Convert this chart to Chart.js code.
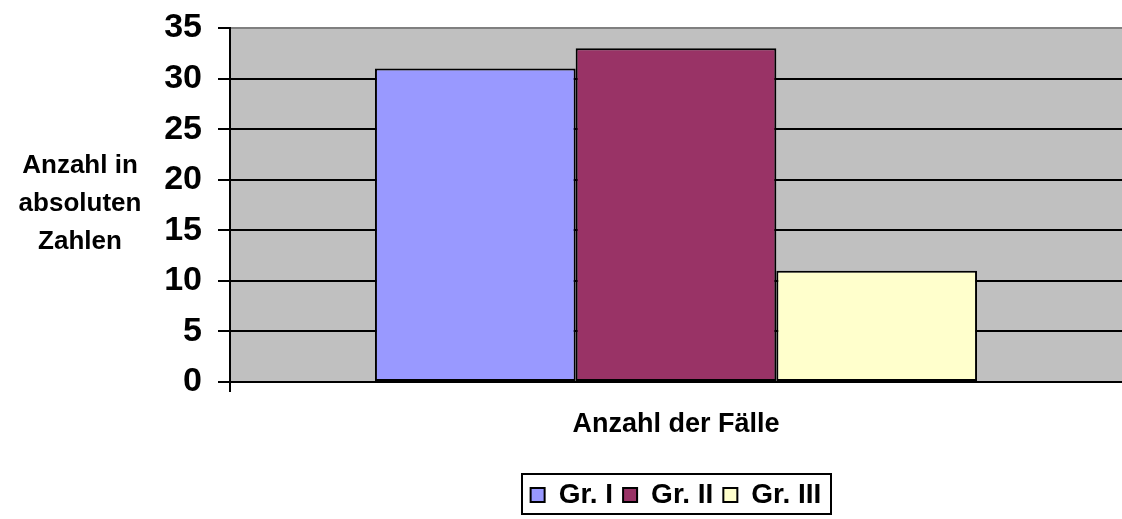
<!DOCTYPE html>
<html>
<head>
<meta charset="utf-8">
<script src="https://cdn.jsdelivr.net/npm/chart.js@4"></script>
<style>
  html, body { margin: 0; padding: 0; background: #fff; }
  #wrap { width: 1122px; height: 519px; }
</style>
</head>
<body>
<div id="wrap"><canvas id="bar-chart"></canvas></div>
<script>
var categories = [""];
var groupNames = ["Gr. I", "Gr. II", "Gr. III"];
var groupValues = [31, 33, 11];
var groupColors = ["#9999FF", "#993366", "#FFFFCC"];
var yTitleLines = ["Anzahl in", "absoluten", "Zahlen"];
var xTitle = "Anzahl der Fälle";

var fontFam = 'Arial, "Liberation Sans", sans-serif';
var legendSize = 28, legendBox = 14, legendPad = 10;

var plotBg = {
	id: 'plotBg',
	beforeDraw: function(chart) {
		var a = chart.chartArea, ctx = chart.ctx;
		ctx.save();
		ctx.fillStyle = '#C0C0C0';
		ctx.fillRect(a.left, a.top, a.right - a.left, a.bottom - a.top);
		ctx.restore();
	}
};

var extras = {
	id: 'extras',
	afterUpdate: function(chart) {
		// center the legend under the plot area, not the canvas
		var lg = chart.legend, a = chart.chartArea;
		var d = (a.left + a.right) / 2 - (lg.left + lg.right) / 2;
		lg.left += d;
		lg.right += d;
		lg.adjustHitBoxes();
	},
	afterDraw: function(chart) {
		var ctx = chart.ctx, a = chart.chartArea, lg = chart.legend;
		ctx.save();
		ctx.fillStyle = '#000';
		ctx.font = 'bold 26px ' + fontFam;
		ctx.textAlign = 'center';
		ctx.textBaseline = 'middle';
		yTitleLines.forEach(function(t, i) {
			ctx.fillText(t, 80, 166 + i * 38);
		});
		ctx.strokeStyle = '#000';
		ctx.lineWidth = 2;
		ctx.beginPath();
		ctx.moveTo(a.left, a.bottom);
		ctx.lineTo(a.left, a.bottom + 10);
		ctx.stroke();
		// frame around the legend
		ctx.font = 'bold ' + legendSize + 'px ' + fontFam;
		var w = 0;
		groupNames.forEach(function(n, i) {
			w += legendBox + legendSize / 2 + ctx.measureText(n).width;
			if (i > 0) w += legendPad;
		});
		var cx = (lg.left + lg.right) / 2;
		var cy = lg.top + (lg.bottom - lg.top) / 2;
		ctx.strokeRect(Math.round(cx - w / 2 - 9), Math.round(cy - 21), Math.round(w + 18), 40);
		ctx.restore();
	}
};

var datasets = groupNames.map(function(name, i) {
	return {
		label: name,
		data: [groupValues[i]],
		backgroundColor: groupColors[i],
		borderColor: '#000',
		borderWidth: 2,
		borderSkipped: false,
		barPercentage: 1,
		categoryPercentage: 0.675
	};
});

new Chart(document.getElementById("bar-chart"), {
	type: 'bar',
	data: {
		labels: categories,
		datasets: datasets
	},
	plugins: [plotBg, extras],
	options: {
		responsive: true,
		maintainAspectRatio: false,
		animation: false,
		layout: { padding: { top: 28, left: 0, right: 0, bottom: 0 } },
		plugins: {
			title: { display: false },
			tooltip: { enabled: false },
			legend: {
				position: 'bottom',
				labels: {
					color: '#000',
					boxWidth: legendBox,
					boxHeight: legendBox,
					padding: legendPad,
					font: { family: fontFam, size: legendSize, weight: 'bold' }
				}
			}
		},
		scales: {
			x: {
				grid: { display: false },
				border: { color: '#000', width: 2 },
				ticks: { display: false },
				title: {
					display: true,
					text: xTitle,
					color: '#000',
					font: { family: fontFam, size: 27, weight: 'bold' },
					padding: { top: 0, bottom: 30 }
				},
				afterFit: function(scale) { scale.height = 89; }
			},
			y: {
				min: 0,
				max: 35,
				ticks: {
					stepSize: 5,
					color: '#000',
					padding: 16,
					font: { family: fontFam, size: 34, weight: 'bold' }
				},
				grid: {
					color: function(c) { return c.tick && c.tick.value === 35 ? '#808080' : '#000'; },
					lineWidth: 2,
					tickLength: 12,
					tickColor: '#000'
				},
				border: { color: '#000', width: 2 },
				afterFit: function(scale) {
					scale.width = 230;
					scale.paddingTop = 0;
					scale.paddingBottom = 0;
				}
			}
		}
	}
});
</script>
</body>
</html>
